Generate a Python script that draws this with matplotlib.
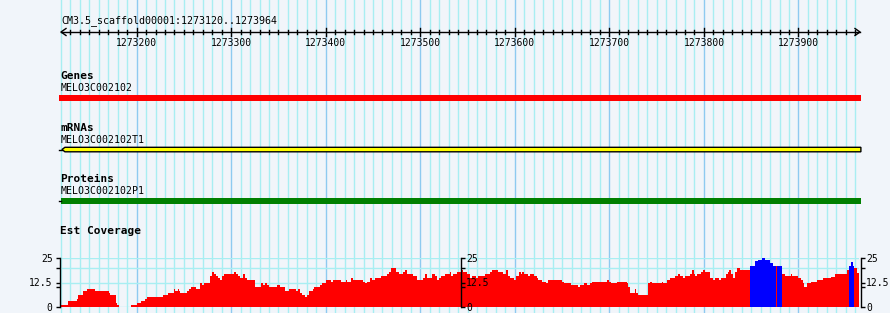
import matplotlib
matplotlib.use("Agg")
import matplotlib.pyplot as plt
from matplotlib.patches import Rectangle, Polygon

# region shown
seq_name = "CM3.5_scaffold00001"
view_start = 1273120
view_end = 1273964

# feature tracks
track_titles = ["Genes", "mRNAs", "Proteins"]
feature_names = ["MELO3C002102", "MELO3C002102T1", "MELO3C002102P1"]
feature_starts = [1273118, 1273121, 1273120]
feature_ends = [1273966, 1273966, 1273966]
feature_colors = ["#ff0000", "#ffff00", "#008000"]

# Est coverage, step start (bp offset from view_start) and depth
cov_offsets = [0, 7, 17, 18, 23, 28, 36, 51, 52, 58, 59, 61, 74, 80, 85, 89, 91, 108,
               113, 119, 120, 121, 124, 125, 126, 133, 135, 138, 143, 147, 149, 151,
               158, 160, 162, 164, 166, 168, 170, 172, 183, 185, 187, 189, 192, 195,
               197, 205, 211, 214, 216, 218, 220, 228, 232, 237, 241, 249, 251, 253,
               255, 258, 260, 262, 266, 268, 274, 276, 278, 280, 286, 288, 296, 301,
               303, 307, 309, 319, 322, 324, 327, 329, 332, 338, 345, 347, 349, 354,
               358, 362, 364, 366, 372, 377, 383, 385, 387, 392, 396, 398, 400, 402,
               406, 411, 413, 415, 419, 423, 425, 429, 433, 435, 439, 441, 448, 454,
               456, 462, 467, 471, 473, 475, 479, 481, 484, 486, 488, 490, 494, 496,
               500, 503, 505, 509, 513, 515, 530, 532, 539, 547, 549, 553, 556, 560,
               562, 578, 580, 582, 588, 599, 600, 602, 607, 608, 610, 621, 623, 625,
               627, 636, 637, 641, 644, 649, 653, 655, 658, 660, 665, 667, 669, 671,
               673, 677, 679, 681, 686, 690, 692, 696, 698, 703, 705, 707, 709, 711,
               713, 715, 718, 724, 729, 734, 737, 741, 745, 750, 753, 756, 757, 763,
               766, 772, 773, 779, 783, 785, 786, 789, 793, 800, 806, 814, 819, 831,
               833, 836, 838, 839, 842]
cov_values = [1, 3, 4, 6, 8, 9, 8, 7, 6, 2, 1, 0, 1, 2, 3, 4, 5, 6,
              7, 8, 9, 8, 9, 8, 7, 8, 9, 10, 9, 12, 11, 12,
              16, 18, 17, 16, 15, 14, 16, 17, 18, 17, 16, 15, 17, 15,
              14, 10, 12, 11, 12, 11, 10, 11, 10, 8, 9, 8, 9, 7,
              6, 5, 6, 8, 9, 10, 11, 12, 12.5, 14, 13, 14, 13, 14,
              13, 15, 14, 13, 12.5, 13, 15, 14, 15, 16, 17, 18, 20, 18,
              17, 18, 19, 17, 16, 14, 15, 17, 15, 17, 16, 14, 15, 16,
              17, 18, 16, 17, 18, 19, 18, 17, 15, 16, 15, 16, 17, 18,
              19, 18, 17, 19, 16, 15, 14, 16, 18, 17, 18, 17, 16, 17,
              16, 15, 14, 13, 12, 14, 13, 12, 11, 10, 11, 12, 11, 12,
              13, 14, 13, 12.5, 13, 12, 10, 7, 9, 7, 6, 12, 13, 12,
              12.5, 13, 12.5, 14, 15, 16, 17, 16, 15, 16, 17, 19, 17, 16,
              17, 18, 19, 18, 15, 14, 15, 14, 15, 17, 18, 19, 17, 15,
              18, 20, 19, 19, 21, 23.5, 24, 25, 24, 22.5, 21, 21, 21, 17,
              16, 17, 16, 15, 14, 12, 10, 12, 13, 14, 15, 15.5, 17, 19,
              21, 23, 21, 20, 17.5]
blue_ranges = [(729, 756), (757, 763), (833, 839)]
cov_max = 25
cov_ticks = [0, 12.5, 25]
cov_minor = [10, 20]

# pixel layout of the browser image
W, H = 890, 313
px_left, px_right = 61, 859
bpp = (view_end - view_start) / (px_right - px_left)
bg = "#f1f5fa"
grid_minor = "#a8eef2"
grid_major = "#8ecaf0"
mono = "DejaVu Sans Mono"

fig = plt.figure(figsize=(W / 100, H / 100), dpi=100, facecolor=bg)
ax = fig.add_axes([0, 0, 1, 1])
ax.set_xlim(view_start - px_left * bpp, view_start + (W - px_left) * bpp)
ax.set_ylim(H, 0)
ax.axis("off")

# vertical grid every 10 bp
for pos in range(view_start, view_end + 1, 10):
    ax.axvline(pos, color=grid_major if pos % 100 == 0 else grid_minor, lw=1, zorder=0)

# ruler
ax.text(view_start, 21, f"{seq_name}:{view_start}..{view_end}", family=mono,
        fontsize=7.2, ha="left", va="center")
ax.plot([view_start, view_end + 1 * bpp], [32, 32], color="black", lw=1)
ax.plot([view_start + 5 * bpp, view_start, view_start + 5 * bpp], [28.5, 32, 35.5],
        color="black", lw=1)
ax.plot([view_end - 4 * bpp, view_end + 1 * bpp, view_end - 4 * bpp], [28.5, 32, 35.5],
        color="black", lw=1)
for pos in range(view_start + 10, view_end, 10):
    if pos % 100 == 0:
        ax.plot([pos, pos], [28, 36], color="black", lw=1)
        ax.text(pos, 43, str(pos), family=mono, fontsize=7, ha="center", va="center")
    else:
        ax.plot([pos, pos], [30, 34], color="black", lw=1)

# feature tracks
title_y = [76, 128, 179]
for i in range(3):
    y0 = title_y[i]
    ax.text(view_start - 1 * bpp, y0, track_titles[i], family=mono, fontsize=8,
            fontweight="bold", ha="left", va="center")
    ax.text(view_start - 0.5 * bpp, y0 + 12, feature_names[i], family=mono, fontsize=7.1,
            ha="left", va="center")

# genes
ax.add_patch(Rectangle((feature_starts[0], 95), feature_ends[0] - feature_starts[0], 6,
                       color=feature_colors[0], lw=0))
# mRNA with left-pointing tip
s, e = feature_starts[1], feature_ends[1]
ax.plot([view_start - 2 * bpp, s], [149.5, 149.5], color="black", lw=1)
ax.add_patch(Polygon([(s, 149.5), (s + 3 * bpp, 147.3), (e, 147.3), (e, 151.8),
                      (s + 3 * bpp, 151.8)], closed=True, facecolor=feature_colors[1],
                     edgecolor="black", lw=1))
# proteins
ax.plot([view_start - 2 * bpp, view_start], [201, 201], color="black", lw=1)
ax.add_patch(Rectangle((feature_starts[2], 197.7), feature_ends[2] - feature_starts[2], 6.5,
                       color=feature_colors[2], lw=0))

# coverage
ax.text(view_start - 1 * bpp, 231, "Est Coverage", family=mono, fontsize=8,
        fontweight="bold", ha="left", va="center")

cov_bottom, cov_top = 307, 258
axc = fig.add_axes([px_left / W, (H - cov_bottom) / H, (px_right - px_left) / W,
                    (cov_bottom - cov_top) / H])
axc.set_facecolor("none")
axc.set_xlim(view_start, view_end)
axc.set_ylim(0, cov_max)
for v in [0, 12.5, 20, 25]:
    axc.axhline(v, color=grid_minor, lw=1, zorder=0)

starts = [view_start + o for o in cov_offsets]
ends = starts[1:] + [view_end]
widths = [b - a for a, b in zip(starts, ends)]
colors = []
for o in cov_offsets:
    blue = any(a <= o < b for a, b in blue_ranges)
    colors.append("#0000ff" if blue else "#ff0000")
axc.bar(starts, cov_values, width=widths, align="edge", color=colors, lw=0, zorder=2)

for sp in ["top", "bottom", "right"]:
    axc.spines[sp].set_visible(False)
axc.spines["left"].set_linewidth(1)
axc.spines["left"].set_position(("outward", 1))
axc.set_xticks([])
axc.set_yticks(cov_ticks)
axc.set_yticklabels(["0", "12.5", "25"], family=mono, fontsize=7)
axc.set_yticks(cov_minor, minor=True)
axc.tick_params(axis="y", which="both", length=3, width=1, pad=2, direction="out")


def side_axis(xfrac):
    a = fig.add_axes([xfrac, (H - cov_bottom) / H, 0.0001, (cov_bottom - cov_top) / H])
    a.set_facecolor("none")
    a.set_ylim(0, cov_max)
    a.set_xticks([])
    for sp in ["top", "bottom", "right"]:
        a.spines[sp].set_visible(False)
    a.spines["left"].set_linewidth(1)
    a.yaxis.tick_right()
    a.set_yticks(cov_ticks)
    a.set_yticklabels(["0", "12.5", "25"], family=mono, fontsize=7)
    a.set_yticks(cov_minor, minor=True)
    a.tick_params(axis="y", which="both", length=3, width=1, pad=1, direction="out")
    return a


side_axis(460.5 / W)
side_axis(860.5 / W)

fig.savefig("out.png", dpi=100, facecolor=bg)
